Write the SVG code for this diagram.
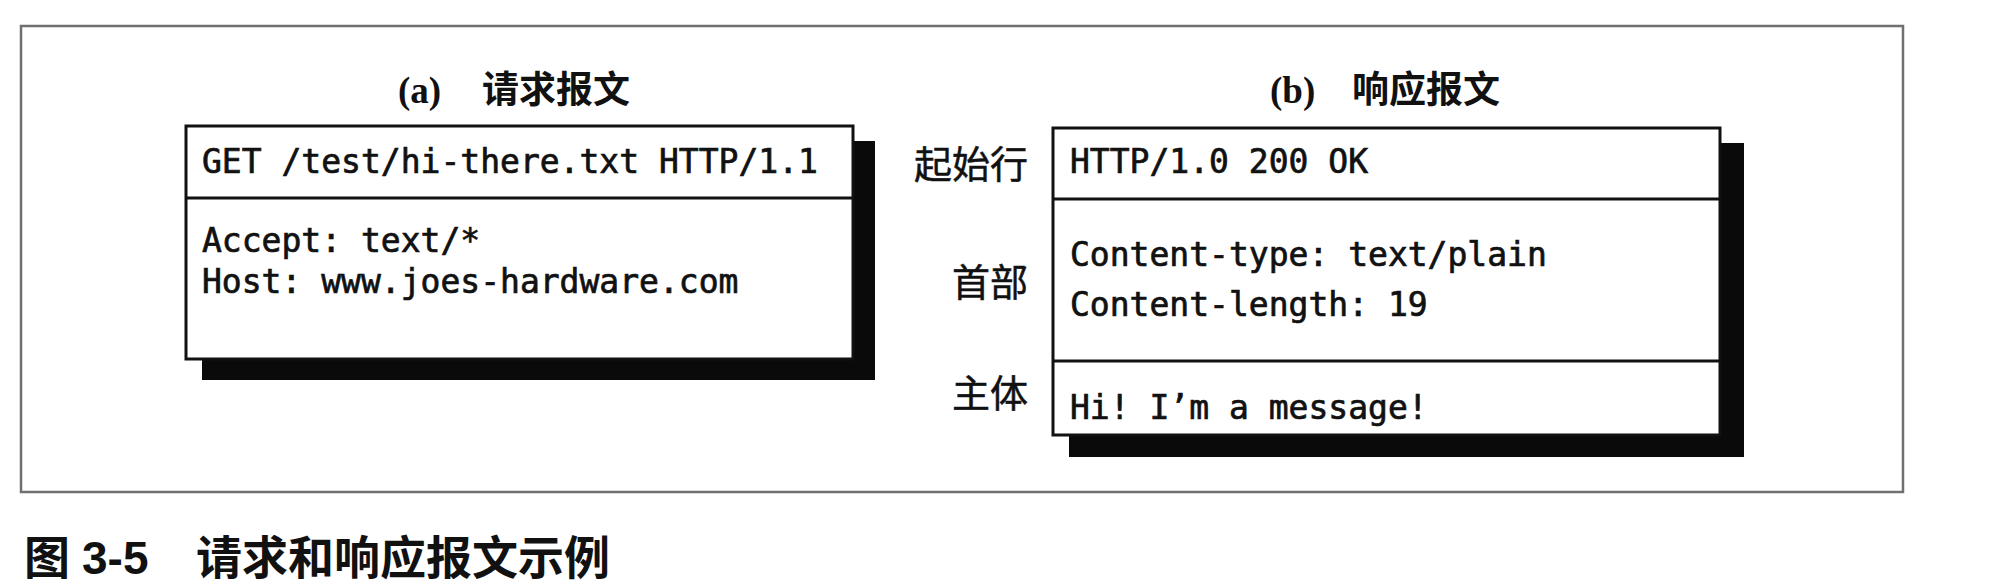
<svg xmlns="http://www.w3.org/2000/svg" width="2008" height="588" viewBox="0 0 2008 588">
<style>
.frame{fill:none;stroke:#707070;stroke-width:2.5}
.box{fill:#fff;stroke:#111;stroke-width:3}
.div{stroke:#111;stroke-width:3}
.shadow{fill:#0a0a0a}
.mono{font-family:"DejaVu Sans Mono","Liberation Mono",monospace;font-size:33px;fill:#111;stroke:#111;stroke-width:0.7}
.title{font-family:"Liberation Serif","Noto Sans CJK SC",serif;font-size:37px;font-weight:bold;fill:#111}
.lbl{font-family:"Noto Sans CJK SC",sans-serif;font-size:38px;fill:#111;text-anchor:end;stroke:#111;stroke-width:0.5}
.cap{font-family:"Liberation Sans","Noto Sans CJK SC",sans-serif;font-size:46px;font-weight:bold;fill:#111}
</style>
<rect width="2008" height="588" fill="#fff"/>
<rect class="frame" x="21" y="26" width="1882" height="466"/>
<g id="request">
<text class="title" x="398" y="103">(a)<tspan x="482" font-family="Noto Sans CJK SC">请求报文</tspan></text>
<rect class="shadow" x="202" y="141" width="673" height="239"/>
<rect class="box" x="186" y="126" width="667" height="233"/>
<line class="div" x1="186" y1="198" x2="853" y2="198"/>
<text class="mono" x="202" y="173">GET /test/hi-there.txt HTTP/1.1</text>
<text class="mono" x="202" y="252">Accept: text/*</text>
<text class="mono" x="202" y="293">Host: www.joes-hardware.com</text>
</g>
<g id="response">
<text class="title" x="1270" y="103">(b)<tspan x="1352" font-family="Noto Sans CJK SC">响应报文</tspan></text>
<rect class="shadow" x="1069" y="143" width="675" height="314"/>
<rect class="box" x="1053" y="128" width="667" height="307"/>
<line class="div" x1="1053" y1="199" x2="1720" y2="199"/>
<line class="div" x1="1053" y1="361" x2="1720" y2="361"/>
<text class="mono" x="1070" y="173">HTTP/1.0 200 OK</text>
<text class="mono" x="1070" y="266">Content-type: text/plain</text>
<text class="mono" x="1070" y="316">Content-length: 19</text>
<text class="mono" x="1070" y="419">Hi! I’m a message!</text>
</g>
<g id="labels">
<text class="lbl" x="1028" y="178">起始行</text>
<text class="lbl" x="1028" y="296">首部</text>
<text class="lbl" x="1028" y="407">主体</text>
</g>
<g id="connectors"></g>
<text class="cap" x="24" y="574">图 <tspan x="82">3-5</tspan><tspan x="196">请求和响应报文示例</tspan></text>
</svg>
